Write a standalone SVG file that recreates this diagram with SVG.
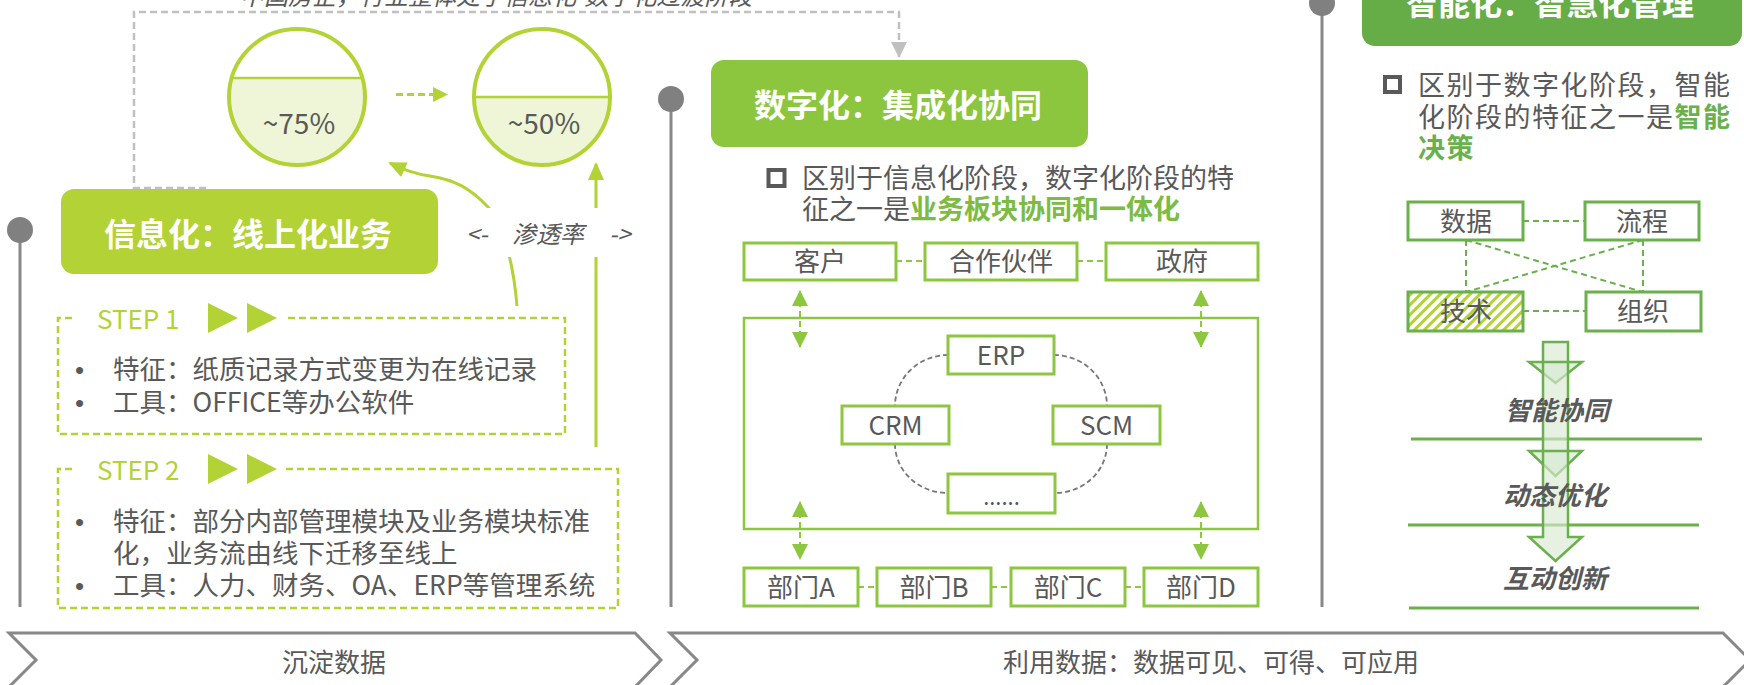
<svg xmlns="http://www.w3.org/2000/svg" width="1744" height="685" viewBox="0 0 1744 685">
<style>
.t{font-family:"Noto Sans CJK SC","Noto Sans",sans-serif;fill:#595959;}
.title{font-family:"Noto Sans CJK SC",sans-serif;fill:#ffffff;font-weight:bold;font-size:32px;text-anchor:middle;}
.b26{font-size:26.5px;}
.b27{font-size:27px;}
.bul{font-family:"Liberation Sans",sans-serif;fill:#595959;font-size:26px;}
.c{text-anchor:middle;}
.gb{font-weight:bold;}
.gbox{fill:#ffffff;stroke:#8dc63f;stroke-width:3;}
.dbox{fill:#ffffff;stroke:#6ab04c;stroke-width:3;}
.tl{stroke:#888888;stroke-width:3;fill:none;}
.dot{fill:#808080;}
.stepbox{fill:none;stroke:#b2d235;stroke-width:2.5;stroke-dasharray:7 4;}
.gdash{stroke:#8dc63f;stroke-width:2;stroke-dasharray:6 4;fill:none;}
.ddash{stroke:#6ab04c;stroke-width:2;stroke-dasharray:6 4;fill:none;}
.arc{stroke:#777777;stroke-width:1.8;stroke-dasharray:5 3;fill:none;}
.blk{fill:#d9ead3;fill-opacity:0.65;stroke:#6ab04c;stroke-width:2.5;stroke-linejoin:miter;}
.chev{fill:#ffffff;stroke:#888888;stroke-width:3;}
</style>
<defs>
<marker id="mg" markerUnits="userSpaceOnUse" markerWidth="16" markerHeight="16" refX="15" refY="8" orient="auto-start-reverse"><path d="M0,0 L16,8 L0,16 Z" fill="#8dc63f"/></marker>
<marker id="my" markerUnits="userSpaceOnUse" markerWidth="18" markerHeight="16" refX="16" refY="8" orient="auto"><path d="M0,0 L18,8 L0,16 Z" fill="#b2d235"/></marker>
<marker id="mgray" markerUnits="userSpaceOnUse" markerWidth="16" markerHeight="16" refX="15" refY="8" orient="auto"><path d="M0,0 L16,8 L0,16 Z" fill="#c0c0c0"/></marker>
<pattern id="hatch" patternUnits="userSpaceOnUse" width="7" height="7" patternTransform="rotate(45)"><rect width="7" height="7" fill="#ffffff"/><rect x="0" y="0" width="3" height="7" fill="#b2d235"/></pattern>
</defs>

<!-- timelines -->
<g id="timeline-1"><line class="tl" x1="20" y1="230" x2="20" y2="607"/><circle class="dot" cx="20" cy="230" r="13"/></g>
<g id="timeline-2"><line class="tl" x1="671" y1="99" x2="671" y2="607"/><circle class="dot" cx="671" cy="99" r="13"/></g>
<g id="timeline-3"><line class="tl" x1="1322" y1="3" x2="1322" y2="607"/><circle class="dot" cx="1322" cy="3" r="13"/></g>

<!-- top caption (cut off) -->
<text class="t" x="240" y="5" font-size="24" font-style="italic">中国房企，行业整体处于信息化-数字化过渡阶段</text>

<g id="connectors">
<path d="M206,188 H134 V12 H899 V57" fill="none" stroke="#c0c0c0" stroke-width="2.5" stroke-dasharray="7 4" marker-end="url(#mgray)"/>
<line x1="396" y1="94.5" x2="436" y2="94.5" stroke="#b2d235" stroke-width="3" stroke-dasharray="7 4"/>
<path d="M433,87 L448,94.5 L433,102 Z" fill="#b2d235"/>
<path d="M517,306 C514,270 505,225 488,207 C470,188 455,180 430,176 C415,174 405,170 390,163" fill="none" stroke="#b2d235" stroke-width="3" marker-end="url(#my)"/>
<line x1="596" y1="447" x2="596" y2="164" stroke="#b2d235" stroke-width="3" marker-end="url(#my)"/>
<line class="gdash" x1="896" y1="261" x2="925" y2="261"/>
<line class="gdash" x1="1077" y1="261" x2="1106" y2="261"/>
<line class="gdash" x1="858" y1="587" x2="877" y2="587"/>
<line class="gdash" x1="991" y1="587" x2="1011" y2="587"/>
<line class="gdash" x1="1125" y1="587" x2="1144" y2="587"/>
<line class="gdash" x1="800" y1="291" x2="800" y2="347" stroke-width="2.5" marker-start="url(#mg)" marker-end="url(#mg)"/>
<line class="gdash" x1="1201" y1="291" x2="1201" y2="347" stroke-width="2.5" marker-start="url(#mg)" marker-end="url(#mg)"/>
<line class="gdash" x1="800" y1="502" x2="800" y2="559" stroke-width="2.5" marker-start="url(#mg)" marker-end="url(#mg)"/>
<line class="gdash" x1="1201" y1="502" x2="1201" y2="559" stroke-width="2.5" marker-start="url(#mg)" marker-end="url(#mg)"/>
<path class="arc" d="M948,355 A53,51 0 0 0 895,406"/>
<path class="arc" d="M1054,355 A53,51 0 0 1 1107,406"/>
<path class="arc" d="M895,444 A53,49 0 0 0 948,493"/>
<path class="arc" d="M1107,444 A52,49 0 0 1 1055,493"/>
<line class="ddash" x1="1523" y1="221" x2="1585" y2="221"/>
<line class="ddash" x1="1523" y1="311" x2="1586" y2="311"/>
<line class="ddash" x1="1466" y1="240" x2="1466" y2="292"/>
<line class="ddash" x1="1643" y1="240" x2="1643" y2="292"/>
<line class="ddash" x1="1466" y1="240" x2="1643" y2="292"/>
<line class="ddash" x1="1643" y1="240" x2="1466" y2="292"/>
</g>

<g id="label-penetration">
<rect x="462" y="208" width="180" height="49" fill="#ffffff"/>
<text class="t" y="243" font-size="24" font-style="italic"><tspan x="466">&lt;-</tspan><tspan x="512">渗透率</tspan><tspan x="609">-&gt;</tspan></text>
</g>

<g id="circle-75">
<path d="M231.7,78 H362.3 A68,68 0 1 1 231.7,78 Z" fill="#eff5d7"/>
<line x1="231.7" y1="78" x2="362.3" y2="78" stroke="#b2d235" stroke-width="2.5"/>
<circle cx="297" cy="97" r="68" fill="none" stroke="#b2d235" stroke-width="4"/>
<text class="t c" x="299" y="134" font-size="28">~75%</text>
</g>
<g id="circle-50">
<path d="M474,97 H610 A68,68 0 0 1 474,97 Z" fill="#eff5d7"/>
<line x1="474" y1="97" x2="610" y2="97" stroke="#b2d235" stroke-width="2.5"/>
<circle cx="542" cy="97" r="68" fill="none" stroke="#b2d235" stroke-width="4"/>
<text class="t c" x="544" y="134" font-size="28">~50%</text>
</g>

<g id="title-info">
<rect x="61" y="189" width="377" height="85" rx="13" fill="#b2d235"/>
<text class="title" x="248" y="246">信息化：线上化业务</text>
</g>
<g id="step1">
<path class="stepbox" d="M72,318 H58 V434 H565 V318 H284"/>
<text class="t" x="97" y="329" font-size="26" style="fill:#b2d235">STEP 1</text>
<path d="M208,303 L238,318 L208,333 Z M247,303 L277,318 L247,333 Z" fill="#b2d235"/>
<text class="bul" x="75" y="379">•</text>
<text class="t b26" x="113" y="379">特征：纸质记录方式变更为在线记录</text>
<text class="bul" x="75" y="412">•</text>
<text class="t b26" x="113" y="412">工具：OFFICE等办公软件</text>
</g>
<g id="step2">
<path class="stepbox" d="M72,469 H58 V608 H618 V469 H284"/>
<text class="t" x="97" y="480" font-size="26" style="fill:#b2d235">STEP 2</text>
<path d="M208,454 L238,469 L208,484 Z M247,454 L277,469 L247,484 Z" fill="#b2d235"/>
<text class="bul" x="75" y="531">•</text>
<text class="t b26" x="113" y="531">特征：部分内部管理模块及业务模块标准</text>
<text class="t b26" x="113" y="563">化，业务流由线下迁移至线上</text>
<text class="bul" x="75" y="595">•</text>
<text class="t b26" x="113" y="595">工具：人力、财务、OA、ERP等管理系统</text>
</g>

<g id="title-digital">
<rect x="711" y="60" width="377" height="87" rx="13" fill="#8cc63f"/>
<text class="title" x="898" y="117">数字化：集成化协同</text>
</g>
<g id="desc-digital">
<rect x="768.5" y="170" width="16" height="16" fill="none" stroke="#595959" stroke-width="4"/>
<text class="t b27" x="802" y="188">区别于信息化阶段，数字化阶段的特</text>
<text class="t b27" x="802" y="219">征之一是<tspan class="gb" style="fill:#7dbb42">业务板块协同和一体化</tspan></text>
</g>
<g id="node-customer"><rect class="gbox" x="744" y="243" width="152" height="37"/><text class="t c" x="820" y="271" font-size="26">客户</text></g>
<g id="node-partner"><rect class="gbox" x="925" y="243" width="152" height="37"/><text class="t c" x="1001" y="271" font-size="26">合作伙伴</text></g>
<g id="node-gov"><rect class="gbox" x="1106" y="243" width="152" height="37"/><text class="t c" x="1182" y="271" font-size="26">政府</text></g>
<g id="node-platform"><rect x="744" y="318" width="514" height="211" fill="none" stroke="#8dc63f" stroke-width="2.5"/></g>
<g id="node-erp"><rect class="gbox" x="948" y="336" width="106" height="38"/><text class="t c" x="1001" y="365" font-size="26">ERP</text></g>
<g id="node-crm"><rect class="gbox" x="842" y="406" width="107" height="38"/><text class="t c" x="895.5" y="435" font-size="26">CRM</text></g>
<g id="node-scm"><rect class="gbox" x="1053" y="406" width="107" height="38"/><text class="t c" x="1106.5" y="435" font-size="26">SCM</text></g>
<g id="node-etc"><rect class="gbox" x="948" y="474" width="107" height="39"/><text class="t c" x="1001.5" y="505" font-size="22">......</text></g>
<g id="node-deptA"><rect class="gbox" x="744" y="568" width="114" height="38"/><text class="t c" x="801" y="597" font-size="26">部门A</text></g>
<g id="node-deptB"><rect class="gbox" x="877" y="568" width="114" height="38"/><text class="t c" x="934" y="597" font-size="26">部门B</text></g>
<g id="node-deptC"><rect class="gbox" x="1011" y="568" width="114" height="38"/><text class="t c" x="1068" y="597" font-size="26">部门C</text></g>
<g id="node-deptD"><rect class="gbox" x="1144" y="568" width="114" height="38"/><text class="t c" x="1201" y="597" font-size="26">部门D</text></g>

<g id="title-smart">
<rect x="1362" y="-40" width="380" height="86" rx="13" fill="#66ad47"/>
<text class="title" x="1550" y="15">智能化：智慧化管理</text>
</g>
<g id="desc-smart">
<rect x="1385" y="77" width="15" height="15" fill="none" stroke="#595959" stroke-width="4"/>
<text class="t b27" x="1418" y="95" letter-spacing="1.5">区别于数字化阶段，智能</text>
<text class="t b27" x="1418" y="127" letter-spacing="1.5">化阶段的特征之一是<tspan class="gb" style="fill:#6ab04c">智能</tspan></text>
<text class="t b27 gb" x="1418" y="158" letter-spacing="1.5" style="fill:#6ab04c">决策</text>
</g>
<g id="node-data"><rect class="dbox" x="1408" y="202" width="115" height="38"/><text class="t c" x="1466" y="231" font-size="26">数据</text></g>
<g id="node-process"><rect class="dbox" x="1585" y="202" width="114" height="38"/><text class="t c" x="1642" y="231" font-size="26">流程</text></g>
<g id="node-tech"><rect x="1408" y="292" width="115" height="39" fill="url(#hatch)" stroke="#6ab04c" stroke-width="3"/><text class="t c" x="1466" y="321" font-size="26">技术</text></g>
<g id="node-org"><rect class="dbox" x="1586" y="292" width="115" height="39"/><text class="t c" x="1643" y="321" font-size="26">组织</text></g>

<g id="levels">
<line x1="1411" y1="439" x2="1702" y2="439" stroke="#6ab04c" stroke-width="3"/>
<line x1="1408" y1="525" x2="1699" y2="525" stroke="#6ab04c" stroke-width="3"/>
<line x1="1409" y1="608" x2="1699" y2="608" stroke="#6ab04c" stroke-width="3"/>
<path class="blk" d="M1543,342 H1568 V362 H1582 L1555.5,383 L1529,362 H1543 Z"/>
<path class="blk" d="M1543,362 H1568 V451 H1582 L1555.5,476 L1529,451 H1543 Z"/>
<path class="blk" d="M1543,451 H1568 V537 H1582 L1555.5,561 L1529,537 H1543 Z"/>
<text class="t c gb" x="1557" y="420" font-size="26" font-style="italic">智能协同</text>
<text class="t c gb" x="1555" y="505" font-size="26" font-style="italic">动态优化</text>
<text class="t c gb" x="1555" y="588" font-size="26" font-style="italic">互动创新</text>
</g>

<g id="phase-1">
<polygon class="chev" points="9,633 635,633 661,660 635,687 9,687 36,660"/>
<text class="t c" x="334" y="672" font-size="26">沉淀数据</text>
</g>
<g id="phase-2">
<polygon class="chev" points="670,633 1723,633 1750,660 1723,687 670,687 697,660"/>
<text class="t c" x="1211" y="672" font-size="26">利用数据：数据可见、可得、可应用</text>
</g>
</svg>
